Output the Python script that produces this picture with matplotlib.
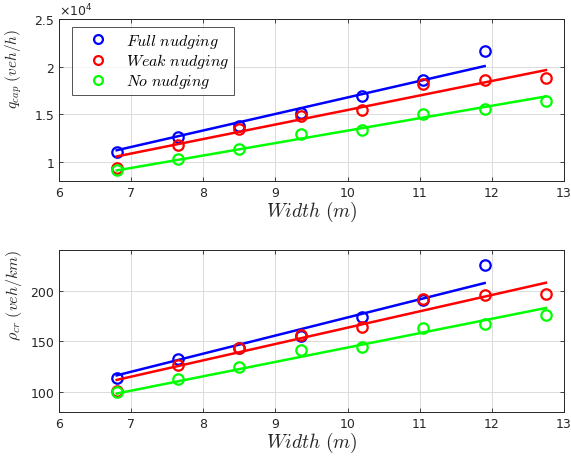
import matplotlib
matplotlib.use('Agg')
import matplotlib.pyplot as plt
import numpy as np
from matplotlib.ticker import FuncFormatter

plt.rcParams['mathtext.fontset'] = 'cm'

# road width (m)
width = [6.8, 7.65, 8.5, 9.35, 10.2, 11.05, 11.9, 12.75]

# capacity flow (veh/h)
q_full = [11010, 12640, 13760, 15170, 16860, 18610, 21640]
q_weak = [9370, 11720, 13410, 14750, 15450, 18150, 18610, 18820]
q_none = [9110, 10240, 11370, 12910, 13330, 15060, 15520, 16360]

# critical density (veh/km)
rho_full = [113.8, 131.9, 143.0, 155.5, 173.7, 191.0, 225.5]
rho_weak = [100.8, 126.0, 143.4, 156.5, 163.8, 191.7, 195.7, 197.0]
rho_none = [99.5, 112.8, 124.4, 140.7, 144.0, 163.1, 166.8, 175.6]

# fitted trend lines, end points
fit_x_full = [6.8, 11.9]
fit_x = [6.8, 12.75]
q_fit_full = [11200, 20050]
q_fit_weak = [10550, 19630]
q_fit_none = [9080, 16860]
rho_fit_full = [116.0, 207.5]
rho_fit_weak = [111.5, 207.8]
rho_fit_none = [98.0, 182.8]

labels = [r'$Full\ nudging$', r'$Weak\ nudging$', r'$No\ nudging$']
colors = ['#0000ff', '#ff0000', '#00ff00']


def style_axes(ax):
    ax.set_xlim(6, 13)
    ax.set_xticks(range(6, 14))
    ax.grid(True, color='0.86', linewidth=0.7)
    ax.set_axisbelow(True)
    ax.tick_params(direction='in', top=True, right=True, labelsize=9,
                   colors='0.15', length=3, width=0.6)
    for s in ax.spines.values():
        s.set_color('0.15')
        s.set_linewidth(0.7)
    ax.set_xlabel(r'$Width\ (m)$', fontsize=14, labelpad=0, color='0.15')


def draw_panel(ax, series, fits):
    handles = []
    for (xs, ys), (fx, fy), c, lab in zip(series, fits, colors, labels):
        h, = ax.plot(xs, ys, 'o', mfc='none', mec=c, mew=1.6, ms=7.5,
                     linestyle='none', label=lab)
        ax.plot(fx, fy, '-', color=c, linewidth=1.8)
        handles.append(h)
    return handles


fig = plt.figure(figsize=(5.71, 4.6), dpi=100)
ax1 = fig.add_axes([0.1033, 0.605, 0.8844, 0.3515])
ax2 = fig.add_axes([0.1033, 0.1028, 0.8844, 0.351])

hs = draw_panel(ax1,
                [(width[:7], q_full), (width, q_weak), (width, q_none)],
                [(fit_x_full, q_fit_full), (fit_x, q_fit_weak), (fit_x, q_fit_none)])
style_axes(ax1)
ax1.set_ylim(8000, 25000)
ax1.set_yticks([10000, 15000, 20000, 25000])
ax1.yaxis.set_major_formatter(FuncFormatter(lambda v, p: f'{v / 1e4:g}'))
ax1.text(0.0, 1.005, r'$\times 10^4$', transform=ax1.transAxes, fontsize=9,
         color='0.15', ha='left', va='bottom', math_fontfamily='dejavusans')
ax1.set_ylabel(r'$q_{cap}\ (veh/h)$', fontsize=11, color='0.15')
ax1.yaxis.set_label_coords(-0.07, 0.70)

for h in hs:
    pass
leg = ax1.legend(handles=hs, loc='upper left', bbox_to_anchor=(0.025, 0.952),
                 fontsize=11.5, frameon=True, fancybox=False, edgecolor='0.15',
                 handlelength=2.7, handletextpad=0.4, borderpad=0.3,
                 labelspacing=0.12, borderaxespad=0, markerscale=0.85)
leg.get_frame().set_linewidth(0.7)

draw_panel(ax2,
           [(width[:7], rho_full), (width, rho_weak), (width, rho_none)],
           [(fit_x_full, rho_fit_full), (fit_x, rho_fit_weak), (fit_x, rho_fit_none)])
style_axes(ax2)
ax2.set_ylim(80, 240)
ax2.set_yticks([100, 150, 200])
ax2.set_ylabel(r'$\rho_{cr}\ (veh/km)$', fontsize=11.5, color='0.15')
ax2.yaxis.set_label_coords(-0.07, 0.73)

fig.savefig('out.png', dpi=100)
